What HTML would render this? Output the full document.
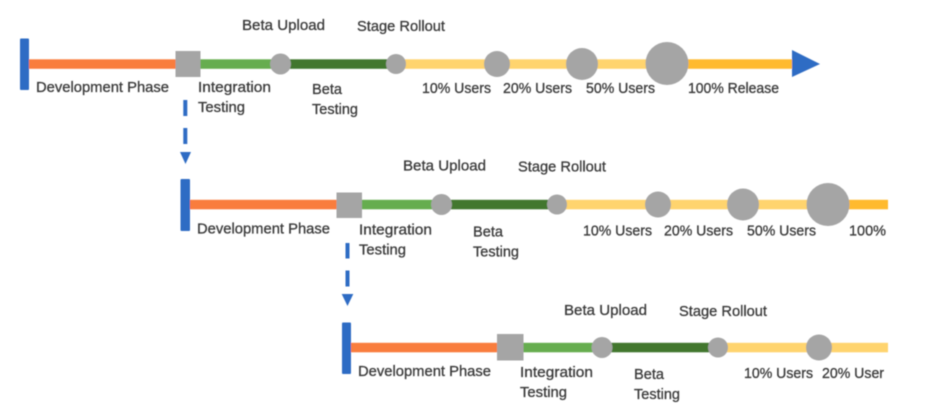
<!DOCTYPE html>
<html>
<head>
<meta charset="utf-8">
<style>
html,body{margin:0;padding:0;background:#fff;width:926px;height:409px;overflow:hidden}
svg{display:block}
text{font-family:"Liberation Sans",sans-serif;font-size:15px;fill:#3a3a3a;stroke:#3a3a3a;stroke-width:.3}
</style>
</head>
<body>
<svg width="926" height="409" viewBox="0 0 926 409" xmlns="http://www.w3.org/2000/svg">
<defs>
<filter id="b" x="-5%" y="-5%" width="110%" height="110%"><feGaussianBlur stdDeviation="0.55"/></filter>
<clipPath id="c"><rect x="0" y="0" width="888" height="409"/></clipPath>
</defs>
<g filter="url(#b)">
<g clip-path="url(#c)">

<!-- Row 1 -->
<g transform="translate(0,0)">
<rect x="29" y="59.300" width="150" height="9.500" fill="#f97d3c"/>
<rect x="198" y="59.300" width="80" height="9.500" fill="#66ad50"/>
<rect x="285" y="59.300" width="105" height="9.500" fill="#43772f"/>
<rect x="400" y="59.300" width="250" height="9.500" fill="#ffd46e"/>
<rect x="685" y="59.300" width="110" height="9.500" fill="#ffba2e"/>
<rect x="20" y="38.500" width="9" height="51.500" rx="1" fill="#2f6cc4"/>
<rect x="175.500" y="51" width="25" height="26" fill="#a5a5a5"/>
<circle cx="280.500" cy="64" r="10.500" fill="#a5a5a5"/>
<circle cx="396" cy="64" r="10" fill="#a5a5a5"/>
<circle cx="497" cy="64" r="13" fill="#a5a5a5"/>
<circle cx="582" cy="64" r="16" fill="#a5a5a5"/>
<circle cx="667" cy="63.500" r="21.500" fill="#a5a5a5"/>
<polygon points="792,50 820,64 792,77" fill="#2f6cc4"/>
<rect x="183.300" y="100" width="4" height="16" fill="#2f6cc4"/>
<rect x="183.300" y="128" width="4" height="16" fill="#2f6cc4"/>
<polygon points="180,152 191,152 185.500,164" fill="#2f6cc4"/>
<text x="242" y="30" textLength="83" lengthAdjust="spacingAndGlyphs">Beta Upload</text>
<text x="357" y="31" textLength="88" lengthAdjust="spacingAndGlyphs">Stage Rollout</text>
<text x="36" y="92" textLength="133" lengthAdjust="spacingAndGlyphs">Development Phase</text>
<text x="198" y="92" textLength="73" lengthAdjust="spacingAndGlyphs">Integration</text>
<text x="198" y="112" textLength="47" lengthAdjust="spacingAndGlyphs">Testing</text>
<text x="312" y="94" textLength="30" lengthAdjust="spacingAndGlyphs">Beta</text>
<text x="312" y="114" textLength="46" lengthAdjust="spacingAndGlyphs">Testing</text>
<text x="422" y="93" textLength="69" lengthAdjust="spacingAndGlyphs">10% Users</text>
<text x="503" y="93" textLength="69" lengthAdjust="spacingAndGlyphs">20% Users</text>
<text x="586" y="93" textLength="69" lengthAdjust="spacingAndGlyphs">50% Users</text>
<text x="688" y="93" textLength="91" lengthAdjust="spacingAndGlyphs">100% Release</text>
</g>

<!-- Row 2 -->
<g transform="translate(161,140.500)">
<rect x="29" y="59.300" width="150" height="9.500" fill="#f97d3c"/>
<rect x="198" y="59.300" width="80" height="9.500" fill="#66ad50"/>
<rect x="285" y="59.300" width="105" height="9.500" fill="#43772f"/>
<rect x="400" y="59.300" width="250" height="9.500" fill="#ffd46e"/>
<rect x="685" y="59.300" width="110" height="9.500" fill="#ffba2e"/>
<rect x="19.500" y="38.500" width="9.500" height="52" rx="1" fill="#2f6cc4"/>
<rect x="175.500" y="52" width="25.500" height="25.500" fill="#a5a5a5"/>
<circle cx="280.500" cy="64" r="10.500" fill="#a5a5a5"/>
<circle cx="396" cy="64" r="10" fill="#a5a5a5"/>
<circle cx="497" cy="64" r="13" fill="#a5a5a5"/>
<circle cx="582" cy="64" r="16" fill="#a5a5a5"/>
<circle cx="667" cy="64" r="21.500" fill="#a5a5a5"/>
<rect x="184.500" y="102.500" width="4" height="15.500" fill="#2f6cc4"/>
<rect x="184.500" y="130" width="4" height="16" fill="#2f6cc4"/>
<polygon points="180.700,153.500 192.300,153.500 186.500,165.500" fill="#2f6cc4"/>
<text x="242" y="30" textLength="83" lengthAdjust="spacingAndGlyphs">Beta Upload</text>
<text x="357" y="31" textLength="88" lengthAdjust="spacingAndGlyphs">Stage Rollout</text>
<text x="36" y="93" textLength="133" lengthAdjust="spacingAndGlyphs">Development Phase</text>
<text x="198" y="94" textLength="73" lengthAdjust="spacingAndGlyphs">Integration</text>
<text x="198" y="114" textLength="47" lengthAdjust="spacingAndGlyphs">Testing</text>
<text x="312" y="96" textLength="30" lengthAdjust="spacingAndGlyphs">Beta</text>
<text x="312" y="116" textLength="46" lengthAdjust="spacingAndGlyphs">Testing</text>
<text x="422" y="95" textLength="69" lengthAdjust="spacingAndGlyphs">10% Users</text>
<text x="503" y="95" textLength="69" lengthAdjust="spacingAndGlyphs">20% Users</text>
<text x="586" y="95" textLength="69" lengthAdjust="spacingAndGlyphs">50% Users</text>
<text x="688" y="95" textLength="37" lengthAdjust="spacingAndGlyphs">100%</text>
</g>

<!-- Row 3 -->
<g transform="translate(322,283.500)">
<rect x="29" y="59.300" width="150" height="9.500" fill="#f97d3c"/>
<rect x="198" y="59.300" width="80" height="9.500" fill="#66ad50"/>
<rect x="285" y="59.300" width="105" height="9.500" fill="#43772f"/>
<rect x="400" y="59.300" width="250" height="9.500" fill="#ffd46e"/>
<rect x="20" y="39" width="9" height="51.500" rx="1" fill="#2f6cc4"/>
<rect x="175" y="50.500" width="26.500" height="26.500" fill="#a5a5a5"/>
<circle cx="280" cy="64" r="10.500" fill="#a5a5a5"/>
<circle cx="396" cy="64" r="10" fill="#a5a5a5"/>
<circle cx="497" cy="64" r="13" fill="#a5a5a5"/>
<text x="242" y="31.500" textLength="83" lengthAdjust="spacingAndGlyphs">Beta Upload</text>
<text x="357" y="32.500" textLength="88" lengthAdjust="spacingAndGlyphs">Stage Rollout</text>
<text x="36" y="92.500" textLength="133" lengthAdjust="spacingAndGlyphs">Development Phase</text>
<text x="198" y="93.500" textLength="73" lengthAdjust="spacingAndGlyphs">Integration</text>
<text x="198" y="113.500" textLength="47" lengthAdjust="spacingAndGlyphs">Testing</text>
<text x="312" y="95.500" textLength="30" lengthAdjust="spacingAndGlyphs">Beta</text>
<text x="312" y="115.500" textLength="46" lengthAdjust="spacingAndGlyphs">Testing</text>
<text x="422" y="94.500" textLength="69" lengthAdjust="spacingAndGlyphs">10% Users</text>
<text x="500" y="94.500" textLength="62" lengthAdjust="spacingAndGlyphs">20% User</text>
</g>

</g>
</g>
</svg>
</body>
</html>
